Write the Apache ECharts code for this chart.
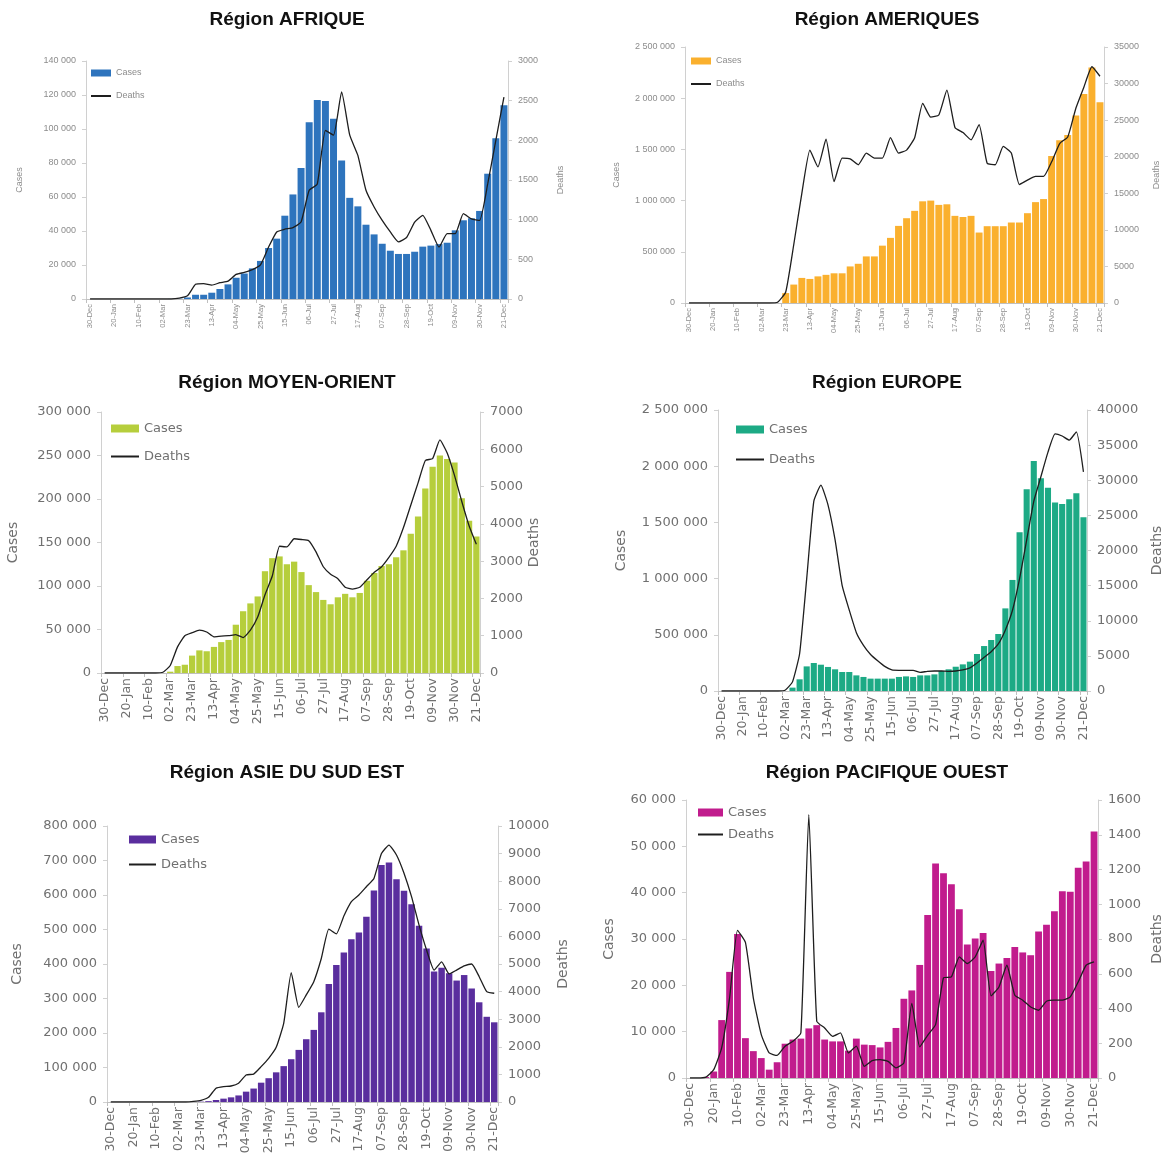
<!DOCTYPE html>
<html>
<head>
<meta charset="utf-8">
<script src="https://cdn.jsdelivr.net/npm/echarts@6/dist/echarts.min.js"></script>
<style>
  body { margin: 0; background: #fff; }
  #wrap { position: relative; width: 1169px; height: 1162px; }
  .layer { position: absolute; left: 0; top: 0; width: 1169px; height: 1162px; }
</style>
</head>
<body>
<div id="wrap"></div>
<script>
// semaines (lundi) 30-Dec-2019 -> 21-Dec-2020
var weeks = ['30-Dec','06-Jan','13-Jan','20-Jan','27-Jan','03-Feb','10-Feb','17-Feb','24-Feb','02-Mar',
  '09-Mar','16-Mar','23-Mar','30-Mar','06-Apr','13-Apr','20-Apr','27-Apr','04-May','11-May',
  '18-May','25-May','01-Jun','08-Jun','15-Jun','22-Jun','29-Jun','06-Jul','13-Jul','20-Jul',
  '27-Jul','03-Aug','10-Aug','17-Aug','24-Aug','31-Aug','07-Sep','14-Sep','21-Sep','28-Sep',
  '05-Oct','12-Oct','19-Oct','26-Oct','02-Nov','09-Nov','16-Nov','23-Nov','30-Nov','07-Dec',
  '14-Dec','21-Dec'];

var afriqueCases = [0,0,0,0,0,0,0,0,0,0,
  50,200,900,2500,2500,3700,5900,8600,12500,15000,
  18000,22400,30000,35500,49000,61500,77000,104000,117000,116500,
  106000,81500,59500,54500,43700,38000,32500,28400,26500,26500,
  27800,30800,31400,32300,33100,40400,46300,47500,51800,73700,
  94500,114000];
var afriqueDeaths = [0,0,0,0,0,0,0,0,0,0,
  0,10,40,185,195,175,205,225,310,335,
  370,430,655,845,880,900,970,1370,1450,2125,
  2065,2610,2065,1810,1370,1160,990,845,720,775,
  970,1055,865,655,825,825,1075,1010,990,1450,
  2000,2545];

var ameriquesCases = [0,0,0,0,0,0,0,0,0,0,
  0,0,97000,180000,245000,235000,260000,275000,290000,290000,
  357000,383000,455000,455000,560000,636000,753000,828000,900000,993000,
  1000000,958000,964000,851000,840000,851000,688000,750000,750000,750000,
  786000,786000,877000,985000,1015000,1435000,1590000,1640000,1830000,2040000,
  2300000,1960000];
var ameriquesDeaths = [0,0,0,0,0,0,0,0,0,0,
  0,100,1500,8000,15000,20900,18600,22400,16600,19800,
  19700,18900,20500,19800,19800,22600,20500,20900,22600,27300,
  25400,25700,29100,24000,23300,22300,24400,19100,18900,21400,
  20500,16200,16800,17300,17300,19300,21800,22700,26600,29500,
  32300,31000];

var moyenOrientCases = [0,0,0,0,0,0,0,0,0,1500,
  8000,9500,20000,26000,25000,30000,35500,38000,55500,71000,
  80000,88000,117000,132000,134000,125000,128000,116000,101000,93000,
  84000,79000,87000,91000,87000,92000,106000,115000,123000,125000,
  133000,141000,160000,180000,212000,237000,250000,246000,242000,201000,
  175000,157000];
var moyenOrientDeaths = [0,0,0,0,0,0,0,0,20,200,
  700,1000,1080,1150,1100,970,990,1000,1030,950,
  1150,1500,2100,2600,3400,3380,3600,3580,3550,3250,
  2850,2650,2530,2300,2250,2300,2500,2700,2850,3100,
  3400,3900,4500,5100,5700,5750,6250,5900,5300,4600,
  3950,3450];

var europeCases = [0,0,0,0,0,0,0,0,0,0,
  30000,104000,219000,249000,234000,214000,193000,169000,169000,139000,
  125000,110000,110000,110000,110000,125000,130000,125000,139000,139000,
  148000,178000,193000,216000,237000,261000,329000,400000,454000,507000,
  735000,988000,1412000,1794000,2046000,1892000,1809000,1676000,1664000,1705000,
  1759000,1545000];
var europeDeaths = [0,0,0,0,0,0,0,0,0,150,
  1300,5300,16000,27000,29300,26500,21500,15000,11500,8300,
  6500,5200,4300,3500,3000,2950,2950,2950,2650,2800,
  2850,2850,2800,2850,3000,3300,4000,4800,5600,6700,
  8700,11500,16000,21500,27000,30500,34000,36600,36300,35700,
  36900,31200];

var asieCases = [0,0,0,0,0,0,0,0,0,0,
  0,500,1000,2500,5800,9700,13500,19000,30000,39000,
  56000,69000,86000,104000,124000,151000,182000,209000,260000,342000,
  397000,433000,472000,491000,537000,613000,687000,694000,646000,612000,
  573000,511000,445000,378000,389000,373000,352000,368000,329000,289000,
  247000,231000];
var asieDeaths = [0,0,0,0,0,0,0,0,0,0,
  0,20,60,170,500,560,580,680,980,1010,
  1280,1580,1980,2850,4690,3430,3880,4360,5200,6260,
  6090,6740,7260,7500,7800,8100,9000,9310,8950,8290,
  7440,6410,5510,4780,5080,4640,4780,4930,5000,4540,
  4000,3940];

var pacifiqueCases = [0,0,200,1400,12500,22900,31100,8600,5800,4300,
  1800,3400,7400,8300,8500,10700,11400,8300,7900,7900,
  5900,8500,7200,7100,6600,7800,10800,17100,18900,24400,
  35200,46300,44200,41800,36400,28800,30100,31300,23100,24700,
  25900,28300,27100,26500,31600,33100,36000,40300,40200,45400,
  46700,53200];
var pacifiqueDeaths = [0,0,5,48,173,460,850,780,460,250,
  144,130,183,211,260,1515,327,288,240,260,
  144,183,67,100,106,96,58,87,430,179,
  246,307,576,582,697,659,697,793,473,524,
  649,476,448,409,390,442,448,448,467,553,
  649,668];

var panels = [
  { title: 'Région AFRIQUE', tx: 287, ty: 20, cases: afriqueCases, deaths: afriqueDeaths, color: '#2E74BD',
    grid: { left: 86, top: 61, width: 422, height: 238 }, cMax: 140000, cStep: 20000, dMax: 3000, dStep: 500,
    small: true, lg: { left: 90, top: 68.5, gap: 14, w: 20, h: 7 }, cGap: 62, dGap: 48 },
  { title: 'Région AMERIQUES', tx: 887, ty: 20, cases: ameriquesCases, deaths: ameriquesDeaths, color: '#FAB02E',
    grid: { left: 685, top: 47, width: 419, height: 256 }, cMax: 2500000, cStep: 500000, dMax: 35000, dStep: 5000,
    small: true, lg: { left: 690, top: 56.5, gap: 14, w: 20, h: 7 }, cGap: 64, dGap: 48 },
  { title: 'Région MOYEN-ORIENT', tx: 287, ty: 383, cases: moyenOrientCases, deaths: moyenOrientDeaths, color: '#B6CE3C',
    grid: { left: 101, top: 412, width: 379, height: 261 }, cMax: 300000, cStep: 50000, dMax: 7000, dStep: 1000,
    small: false, lg: { left: 110, top: 422, gap: 15, w: 28, h: 8 }, cGap: 81, dGap: 44 },
  { title: 'Région EUROPE', tx: 887, ty: 383, cases: europeCases, deaths: europeDeaths, color: '#1DAA85',
    grid: { left: 718, top: 410, width: 369, height: 281 }, cMax: 2500000, cStep: 500000, dMax: 40000, dStep: 5000,
    small: false, lg: { left: 735, top: 423, gap: 17, w: 28, h: 8 }, cGap: 90, dGap: 63 },
  { title: 'Région ASIE DU SUD EST', tx: 287, ty: 773, cases: asieCases, deaths: asieDeaths, color: '#5A2E9E',
    grid: { left: 107, top: 826, width: 391, height: 276 }, cMax: 800000, cStep: 100000, dMax: 10000, dStep: 1000,
    small: false, lg: { left: 128, top: 833, gap: 12, w: 27, h: 8 }, cGap: 83, dGap: 58 },
  { title: 'Région PACIFIQUE OUEST', tx: 887, ty: 773, cases: pacifiqueCases, deaths: pacifiqueDeaths, color: '#C11C8D',
    grid: { left: 686, top: 800, width: 412, height: 278 }, cMax: 60000, cStep: 10000, dMax: 1600, dStep: 200,
    small: false, lg: { left: 697, top: 806, gap: 9, w: 25, h: 8 }, cGap: 70, dGap: 52 }
];

function spaced(v) {
  return String(v).replace(/\B(?=(\d{3})+(?!\d))/g, ' ');
}

function makeOption(p) {
  var fam = p.small ? 'Liberation Sans' : 'DejaVu Sans';
  var fs = p.small ? 9 : 13;
  var xfs = p.small ? 7.5 : 12.5;
  var col = p.small ? '#8c8c8c' : '#707070';
  var axisCol = '#d0d0d0';
  var ys = function (max, step, name, gap, pos, fmt) {
    return {
      type: 'value', position: pos, min: 0, max: max, interval: step,
      name: name, nameLocation: 'middle', nameGap: gap, nameRotate: 90,
      nameTextStyle: { fontFamily: fam, fontSize: p.small ? 9 : 14, color: col },
      axisLine: { show: true, lineStyle: { color: axisCol } },
      axisTick: { show: true, length: 4, lineStyle: { color: axisCol } },
      splitLine: { show: false },
      axisLabel: { formatter: fmt, fontFamily: fam, fontSize: fs, color: col, margin: 10 }
    };
  };
  return {
    animation: false,
    graphic: [{
      type: 'text', x: p.tx, y: p.ty,
      style: { text: p.title, font: 'bold 19px "Liberation Sans"', fill: '#111', align: 'center', verticalAlign: 'middle' }
    }],
    grid: p.grid,
    legend: {
      orient: 'vertical', left: p.lg.left, top: p.lg.top, padding: 0,
      itemWidth: p.lg.w, itemHeight: p.lg.h, itemGap: p.lg.gap,
      textStyle: { fontFamily: fam, fontSize: p.small ? 9 : 13, color: col },
      data: [
        { name: 'Cases', icon: 'rect' },
        // pas de pastille sur la ligne
        { name: 'Deaths', itemStyle: { color: 'rgba(0,0,0,0)', borderWidth: 0, opacity: 0 } }
      ]
    },
    xAxis: {
      type: 'category', data: weeks,
      axisLine: { lineStyle: { color: '#bfbfbf' } },
      axisTick: { show: true, interval: 2, length: 4, lineStyle: { color: '#bfbfbf' } },
      axisLabel: { interval: 2, rotate: 90, fontFamily: fam, fontSize: xfs, color: col, margin: 5 }
    },
    yAxis: [
      ys(p.cMax, p.cStep, 'Cases', p.cGap, 'left', spaced),
      ys(p.dMax, p.dStep, 'Deaths', p.dGap, 'right', function (v) { return String(v); })
    ],
    series: [
      { name: 'Cases', type: 'bar', data: p.cases, yAxisIndex: 0, barCategoryGap: '14%',
        itemStyle: { color: p.color } },
      { name: 'Deaths', type: 'line', data: p.deaths, yAxisIndex: 1, symbol: 'none', smooth: 0.15,
        lineStyle: { color: '#1e1e1e', width: 1.3 }, itemStyle: { color: '#1e1e1e' } }
    ]
  };
}

var wrap = document.getElementById('wrap');
panels.forEach(function (p) {
  var div = document.createElement('div');
  div.className = 'layer';
  wrap.appendChild(div);
  var chart = echarts.init(div, null, { renderer: 'canvas' });
  chart.setOption(makeOption(p));
});
</script>
</body>
</html>
